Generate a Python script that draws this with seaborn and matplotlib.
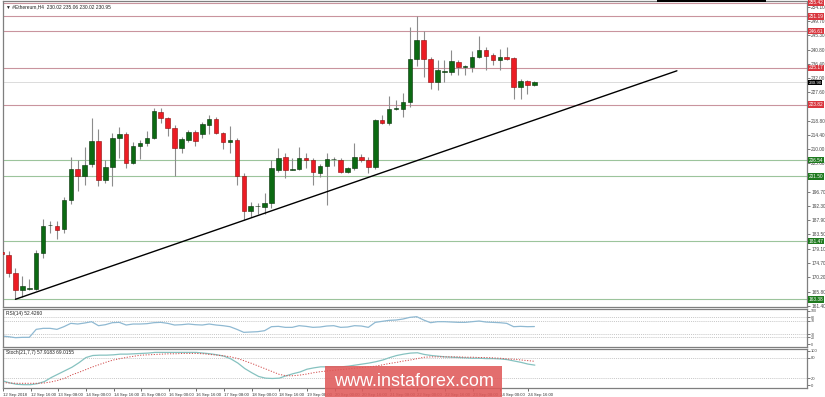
import numpy as np
import pandas as pd
import matplotlib
matplotlib.use("Agg")
import matplotlib.pyplot as plt
import seaborn as sns
from matplotlib.patches import Rectangle
from matplotlib.transforms import blended_transform_factory

# ---------------- data ----------------
opens = [178.0, 177.1, 171.6, 166.3, 166.6, 166.6, 177.9, 186.3, 186.2, 185.1,
         194.2, 203.8, 201.5, 205.4, 212.5, 200.4, 204.5, 213.4, 214.6, 205.8,
         211.0, 212.0, 213.6, 221.6, 219.5, 216.6, 210.4, 212.8, 215.4, 214.7,
         217.5, 219.4, 215.1, 212.3, 212.8, 201.5, 190.9, 192.2, 192.1, 193.3,
         203.5, 207.6, 203.6, 203.8, 207.2, 206.6, 202.7, 204.7, 206.8, 206.6,
         203.0, 204.0, 207.6, 206.6, 204.4, 219.0, 218.0, 222.4, 222.4, 224.7,
         237.9, 243.8, 238.1, 230.9, 234.0, 234.0, 237.1, 235.4, 235.4, 238.6,
         240.7, 239.2, 237.6, 238.6, 238.3, 229.3, 231.2, 230.0]
highs = [181.7, 178.5, 173.0, 170.7, 169.7, 178.7, 188.3, 187.6, 187.7, 195.0,
         207.6, 206.6, 210.5, 219.5, 216.2, 206.6, 214.9, 217.0, 215.4, 212.3,
         212.8, 215.7, 222.6, 222.9, 220.0, 217.5, 213.8, 216.0, 215.9, 218.5,
         220.6, 220.0, 215.4, 217.3, 213.6, 202.5, 193.7, 193.4, 196.3, 206.6,
         210.2, 208.7, 207.1, 210.5, 208.7, 207.1, 205.3, 208.9, 207.6, 207.1,
         204.5, 212.0, 208.5, 207.6, 219.3, 220.6, 226.4, 225.2, 227.3, 248.0,
         251.3, 246.7, 238.6, 237.6, 237.6, 240.7, 237.8, 236.1, 240.5, 245.1,
         241.6, 239.7, 241.0, 241.6, 238.6, 231.6, 231.5, 231.1]
lows = [176.6, 170.2, 163.4, 164.2, 166.2, 166.2, 176.3, 183.9, 182.0, 184.0,
        193.0, 197.1, 198.9, 204.5, 198.5, 199.4, 198.5, 207.1, 204.0, 205.5,
        206.8, 211.0, 213.1, 218.0, 214.0, 201.5, 208.9, 212.3, 211.0, 213.6,
        214.7, 214.7, 209.9, 208.9, 198.9, 187.9, 189.0, 189.9, 190.0, 191.6,
        203.0, 200.9, 203.4, 203.5, 204.0, 198.9, 201.2, 192.6, 204.8, 202.7,
        202.7, 203.5, 206.1, 202.7, 203.7, 217.8, 217.5, 222.1, 220.0, 223.2,
        235.8, 232.4, 228.5, 228.3, 230.9, 233.0, 233.0, 233.0, 234.0, 238.3,
        234.7, 236.1, 234.7, 237.8, 225.4, 225.4, 227.1, 229.7]
closes = [177.5, 171.5, 166.3, 167.4, 166.9, 177.9, 186.1, 186.6, 184.9, 194.2,
          203.8, 201.5, 205.1, 212.5, 200.4, 204.5, 213.4, 214.6, 205.8, 211.0,
          212.0, 213.6, 221.9, 219.5, 216.6, 210.2, 213.1, 215.4, 212.5, 217.8,
          219.4, 214.9, 212.3, 212.7, 201.5, 190.9, 192.4, 192.4, 193.4, 204.0,
          207.3, 203.5, 203.8, 207.1, 206.6, 202.8, 204.7, 206.8, 206.9, 203.0,
          204.0, 207.4, 206.6, 204.5, 219.0, 218.0, 222.4, 222.7, 224.7, 237.9,
          244.0, 238.1, 230.9, 234.7, 234.3, 237.4, 235.4, 235.7, 238.6, 240.7,
          238.9, 237.6, 238.6, 238.1, 229.3, 231.2, 229.9, 230.9]

rsi = [24, 22, 19, 20, 20, 44, 47, 47, 44, 52,
       62, 60, 63, 67, 55, 58, 64, 65, 57, 60,
       60, 61, 64, 65, 62, 57, 58, 60, 58, 57,
       60, 57, 55, 52, 44, 35, 36, 37, 40, 52,
       53, 50, 50, 55, 53, 50, 51, 54, 55, 50,
       51, 55, 54, 50, 65, 68, 71, 72, 75, 80,
       82, 72, 64, 67, 67, 66, 65, 65, 67, 69,
       66, 65, 64, 62, 52, 53, 52, 52.4260]

stoch_main = [12, 6, 2, 1, 1, 4, 10, 22, 32, 42,
              52, 65, 80, 86, 87, 87, 88, 90, 90, 91,
              92, 93, 95, 95, 95, 95, 95, 95, 95, 93,
              91, 88, 84, 76, 64, 48, 36, 25, 20, 19,
              20, 27, 33, 38, 46, 50, 53, 53, 53, 53,
              55, 58, 61, 64, 68, 73, 80, 86, 90, 93,
              94, 89, 86, 84, 82, 81, 80, 79, 78, 78,
              77, 77, 76, 74, 70, 66, 61, 57.9183]
stoch_signal = [7, 6, 5, 5, 5, 5, 6, 9, 14, 20,
                30, 37, 45, 53, 60, 67, 73, 77, 81, 84,
                87, 88, 89, 90, 91, 91, 92, 92, 92, 91,
                89, 87, 85, 82, 77, 70, 63, 55, 47, 39,
                31, 27, 27, 29, 32, 36, 39, 41, 43, 45,
                47, 49, 51, 53, 55, 59, 63, 66, 70, 73,
                77, 81, 82, 82, 82, 82, 82, 81, 81, 80,
                80, 79, 78, 76, 75, 73, 71, 69.0155]

time_labels = ["12 Sep 2018", "12 Sep 16:00", "13 Sep 08:00", "14 Sep 00:00",
               "14 Sep 16:00", "15 Sep 08:00", "16 Sep 00:00", "16 Sep 16:00",
               "17 Sep 08:00", "18 Sep 00:00", "18 Sep 16:00", "19 Sep 08:00",
               "20 Sep 00:00", "20 Sep 16:00", "21 Sep 08:00", "22 Sep 00:00",
               "22 Sep 16:00", "23 Sep 08:00", "24 Sep 00:00", "24 Sep 16:00"]
label_step = 4

resistance_levels = [255.42, 251.19, 246.61, 235.17, 223.82]
support_levels = [206.54, 201.50, 181.47, 163.38]
price_ticks = [254.10, 249.70, 245.30, 240.80, 236.40, 232.00, 227.60,
               218.80, 214.40, 210.00, 205.60, 196.70, 192.30, 187.90,
               183.50, 179.10, 174.70, 170.20, 165.80, 161.40]
trend_x = [2.0, 97.6]
trend_y = [163.4, 234.3]

rsi_levels = [80, 70, 30, 20]
rsi_ticks = [100, 80, 70, 30, 20, 0]
stoch_levels = [80, 20]
stoch_ticks = [100, 80, 20, 0]

# ---------------- style ----------------
sns.set_style("white")
plt.rcParams['font.family'] = ['Liberation Sans', 'DejaVu Sans']

W, H = 825, 397
fig = plt.figure(figsize=(W / 100, H / 100), dpi=100)
fig.patch.set_facecolor("white")

def fa(x0, y0, x1, y1):
    return [x0 / W, 1 - y1 / H, (x1 - x0) / W, (y1 - y0) / H]

ax = fig.add_axes(fa(3, 1, 807, 307))
ax_r = fig.add_axes(fa(3, 308.5, 807, 346.5))
ax_s = fig.add_axes(fa(3, 348.5, 807, 388))

df = pd.DataFrame({"i": np.arange(len(opens)), "open": opens, "high": highs,
                   "low": lows, "close": closes, "rsi": rsi,
                   "k": stoch_main, "d": stoch_signal})
up = df[df["close"] >= df["open"]]
dn = df[df["close"] < df["open"]]

xlim = (0.2, 116.4)
frame_col = "#7f7f7f"

for a in (ax, ax_r, ax_s):
    a.set_facecolor("white")
    a.set_xlim(*xlim)
    for s in a.spines.values():
        s.set_color(frame_col)
        s.set_linewidth(0.9)
    a.yaxis.tick_right()
    a.tick_params(axis='y', length=2, width=0.5, pad=1, labelsize=3.4,
                  colors="#444444")
    a.tick_params(axis='x', bottom=False, labelbottom=False)

# ---------------- main panel ----------------
ax.set_ylim(161.0, 255.96)
ax.set_yticks(price_ticks)
ax.set_yticklabels([f"{v:.2f}" for v in price_ticks])

for lv in resistance_levels:
    ax.axhline(lv, color="#c9949e", lw=0.8, zorder=1)
for lv in support_levels:
    ax.axhline(lv, color="#9cc49c", lw=0.8, zorder=1)
ax.axhline(closes[-1], color="#d6d6d6", lw=0.6, zorder=1)

ax.vlines(df["i"], df["low"], df["high"], color="#8c8c8c", lw=0.8, zorder=2)
ax.bar(up["i"], up["close"] - up["open"], bottom=up["open"], width=0.66,
       color="#0b6a12", edgecolor="#062e08", linewidth=0.4, zorder=3)
ax.bar(dn["i"], dn["open"] - dn["close"], bottom=dn["close"], width=0.66,
       color="#ec1c24", edgecolor="#8b0a0a", linewidth=0.4, zorder=3)

sns.lineplot(x=trend_x, y=trend_y, ax=ax, color="black", lw=1.0, zorder=4)
ax.set_xlim(*xlim)

tr = blended_transform_factory(ax.transAxes, ax.transData)
for lv in resistance_levels:
    ax.text(1.002, lv, f"{lv:.2f}", transform=tr, fontsize=3.4, color="white",
            va="center", ha="left", clip_on=False, zorder=6,
            bbox=dict(boxstyle="square,pad=0.15", fc="#d9363e", ec="none"))
for lv in support_levels:
    ax.text(1.002, lv, f"{lv:.2f}", transform=tr, fontsize=3.4, color="white",
            va="center", ha="left", clip_on=False, zorder=6,
            bbox=dict(boxstyle="square,pad=0.15", fc="#1f7a1f", ec="none"))
ax.text(1.002, closes[-1] - 0.25, f"{closes[-1]:.2f}", transform=tr,
        fontsize=3.2, color="white", va="center", ha="left", clip_on=False,
        zorder=6, bbox=dict(boxstyle="square,pad=0.1", fc="black", ec="none"))

ax.text(0.004, 0.99, "\u25bc #Ethereum,H4  230.02 235.06 230.02 230.95",
        transform=ax.transAxes, fontsize=3.5, va="top", ha="left",
        color="#222222")

# ---------------- RSI panel ----------------
ax_r.set_ylim(-7.5, 106.6)
ax_r.set_yticks(rsi_ticks)
ax_r.set_yticklabels([str(v) for v in rsi_ticks])
ax_r.tick_params(axis='y', labelsize=2.6)
for lv in rsi_levels:
    ax_r.axhline(lv, color="#b4b4b4", lw=0.5, ls=(0, (1.5, 1.5)))
sns.lineplot(data=df, x="i", y="rsi", ax=ax_r, color="#8fb9d2", lw=0.9)
ax_r.set_xlabel("")
ax_r.set_ylabel("")
ax_r.set_xlim(*xlim)
ax_r.text(0.004, 0.93, f"RSI(14) {rsi[-1]:.4f}", transform=ax_r.transAxes,
          fontsize=3.5, va="top", ha="left", color="#222222")

# ---------------- Stochastic panel ----------------
ax_s.set_ylim(-8.7, 106.4)
ax_s.set_yticks(stoch_ticks)
ax_s.set_yticklabels([str(v) for v in stoch_ticks])
ax_s.tick_params(axis='y', labelsize=3.0)
for lv in stoch_levels:
    ax_s.axhline(lv, color="#b4b4b4", lw=0.5, ls=(0, (1.5, 1.5)))
sns.lineplot(data=df, x="i", y="k", ax=ax_s, color="#86c2c0", lw=0.9)
sns.lineplot(data=df, x="i", y="d", ax=ax_s, color="#d04848", lw=0.7,
             linestyle=(0, (1.2, 1.6)))
ax_s.set_xlabel("")
ax_s.set_ylabel("")
ax_s.set_xlim(*xlim)
ax_s.text(0.004, 0.95, f"Stoch(21,7,7) {stoch_main[-1]:.4f} {stoch_signal[-1]:.4f}",
          transform=ax_s.transAxes, fontsize=3.5, va="top", ha="left",
          color="#222222")

tick_pos = np.arange(len(time_labels)) * label_step
ax_s.set_xticks(tick_pos)
ax_s.set_xticklabels(time_labels)
ax_s.tick_params(axis='x', bottom=True, labelbottom=True, length=2.5,
                 width=0.5, pad=0.8, labelsize=3.1, colors="#333333")
for lbl in ax_s.get_xticklabels():
    lbl.set_ha("left")

# ---------------- decorations ----------------
fig.patches.append(Rectangle((657 / W, 1 - 2 / H), (766 - 657) / W, 2 / H,
                             transform=fig.transFigure, fc="black", ec="none",
                             zorder=20))
fig.patches.append(Rectangle((325 / W, 0), (502 - 325) / W, 31 / H,
                             transform=fig.transFigure, fc="#e05a5a",
                             ec="none", alpha=0.88, zorder=20))
fig.text(413.5 / W, 1 - 382 / H, "www.instaforex.com", fontsize=13,
         color="white", ha="center", va="center", zorder=21,
         family=["Liberation Sans", "DejaVu Sans"])

fig.savefig("out.png", dpi=100, facecolor="white")
